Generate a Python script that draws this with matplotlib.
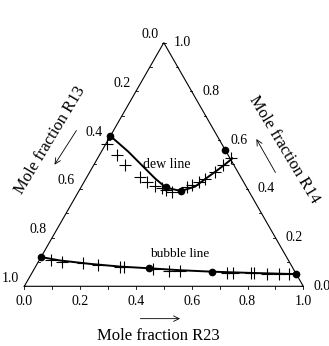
import numpy as np
import matplotlib
matplotlib.use('Agg')
import matplotlib.pyplot as plt

plt.rcParams['font.family'] = ['Liberation Serif', 'DejaVu Serif']

# compositions: (R23, R14), R13 = 1 - R23 - R14
bubble_dot_r23 = [0.0, 0.41, 0.643, 0.95]
bubble_dot_r14 = [0.12, 0.074, 0.06, 0.05]
bubble_exp_r23 = [0.041, 0.084, 0.162, 0.222, 0.303, 0.318, 0.427, 0.488, 0.527,
                  0.698, 0.721, 0.785, 0.797, 0.843, 0.888, 0.925]
bubble_exp_r14 = [0.108, 0.101, 0.094, 0.087, 0.080, 0.079, 0.070, 0.064, 0.062,
                  0.056, 0.056, 0.053, 0.053, 0.052, 0.052, 0.050]
bubble_line_r23 = [0.0, 0.075, 0.19, 0.302, 0.41, 0.525, 0.643, 0.782, 0.95]
bubble_line_r14 = [0.12, 0.106, 0.092, 0.081, 0.074, 0.066, 0.06, 0.055, 0.05]

dew_dot_r23 = [0.0, 0.304, 0.367, 0.44]
dew_dot_r14 = [0.617, 0.406, 0.392, 0.56]
dew_exp_r23 = [0.004, 0.062, 0.112, 0.190, 0.224, 0.262, 0.291, 0.312, 0.334,
               0.378, 0.392, 0.411, 0.428, 0.449, 0.464, 0.480]
dew_exp_r14 = [0.583, 0.539, 0.498, 0.450, 0.429, 0.413, 0.402, 0.395, 0.388,
               0.409, 0.416, 0.427, 0.440, 0.470, 0.498, 0.525]
dew_line_r23 = [0.0, 0.096, 0.181, 0.247, 0.305, 0.349, 0.368, 0.407, 0.428,
                0.449, 0.466, 0.483]
dew_line_r14 = [0.617, 0.553, 0.491, 0.443, 0.405, 0.395, 0.392, 0.409, 0.440,
                0.470, 0.495, 0.525]

tick_vals = [0.0, 0.2, 0.4, 0.6, 0.8, 1.0]
minor_vals = np.round(np.arange(0, 1.01, 0.1), 2)

H = np.sqrt(3) / 2


def tern(r23, r14):
    r23 = np.asarray(r23, dtype=float)
    r14 = np.asarray(r14, dtype=float)
    return r23 + r14 / 2, r14 * H


fig = plt.figure(figsize=(3.29, 3.46), dpi=100)
ax = fig.add_axes([0, 0, 1, 1])
ax.set_xlim(-24.3 / 279, (329 - 24.3) / 279)
ax.set_ylim((286.3 - 346) / 281.3, 286.3 / 281.3)
ax.axis('off')

# triangle frame
tx, ty = tern([0, 1, 0, 0], [0, 0, 1, 0])
ax.plot(tx, ty, color='black', lw=0.8, zorder=2)

# small ticks every 0.1
for v in minor_vals:
    x, y = tern(v, 0)
    ax.plot([x, x], [y, y - 3 / 281.3], color='black', lw=0.6)
    x, y = tern(0, 1 - v)   # left edge, R13 = v
    ax.plot([x, x + 2 / 279], [y, y], color='black', lw=0.6)
    x, y = tern(1 - v, v)   # right edge, R14 = v
    ax.plot([x, x - 2 / 279], [y, y], color='black', lw=0.6)

for v in tick_vals:
    x, y = tern(v, 0)
    ax.annotate(f'{v:.1f}', (x, y), xytext=(0, -11), textcoords='offset points',
                ha='center', va='center', fontsize=10)
    x, y = tern(0, 1 - v)
    ax.annotate(f'{v:.1f}', (x, y), xytext=(-10, 5.8), textcoords='offset points',
                ha='center', va='center', fontsize=10)
    x, y = tern(1 - v, v)
    ax.annotate(f'{v:.1f}', (x, y), xytext=(13.7, 0), textcoords='offset points',
                ha='center', va='center', fontsize=10)

# bubble line
x, y = tern(bubble_line_r23, bubble_line_r14)
ax.plot(x, y, color='black', lw=1.4, zorder=3)
x, y = tern(bubble_exp_r23, bubble_exp_r14)
ax.plot(x, y, '+', color='black', ms=8, mew=0.8, zorder=4)
x, y = tern(bubble_dot_r23, bubble_dot_r14)
ax.plot(x, y, 'o', color='black', ms=4.5, zorder=5)

# dew line
x, y = tern(dew_line_r23, dew_line_r14)
ax.plot(x, y, color='black', lw=1.4, zorder=3)
x, y = tern(dew_exp_r23, dew_exp_r14)
ax.plot(x, y, '+', color='black', ms=8, mew=0.8, zorder=4)
x, y = tern(dew_dot_r23, dew_dot_r14)
ax.plot(x, y, 'o', color='black', ms=4.5, zorder=5)

ax.text(0.510, 0.434, 'dew line', ha='center', va='center', fontsize=10)
ax.text(0.558, 0.115, 'bubble line', ha='center', va='center', fontsize=9.5)

# axis titles and arrows
ax.text(0.481, -0.177, 'Mole fraction R23', ha='center', va='center', fontsize=12)
ax.annotate('', xy=(0.568, -0.115), xytext=(0.406, -0.115),
            arrowprops=dict(arrowstyle='->', lw=0.6, color='black'))
ax.text(0.092, 0.520, 'Mole fraction R13', ha='center', va='center', fontsize=12,
        rotation=59, rotation_mode='anchor')
ax.annotate('', xy=(0.103, 0.424), xytext=(0.192, 0.562),
            arrowprops=dict(arrowstyle='->', lw=0.6, color='black'))
ax.text(0.931, 0.485, 'Mole fraction R14', ha='center', va='center', fontsize=12,
        rotation=-59, rotation_mode='anchor')
ax.annotate('', xy=(0.827, 0.532), xytext=(0.905, 0.396),
            arrowprops=dict(arrowstyle='->', lw=0.6, color='black'))

fig.savefig('out.png', dpi=100)
